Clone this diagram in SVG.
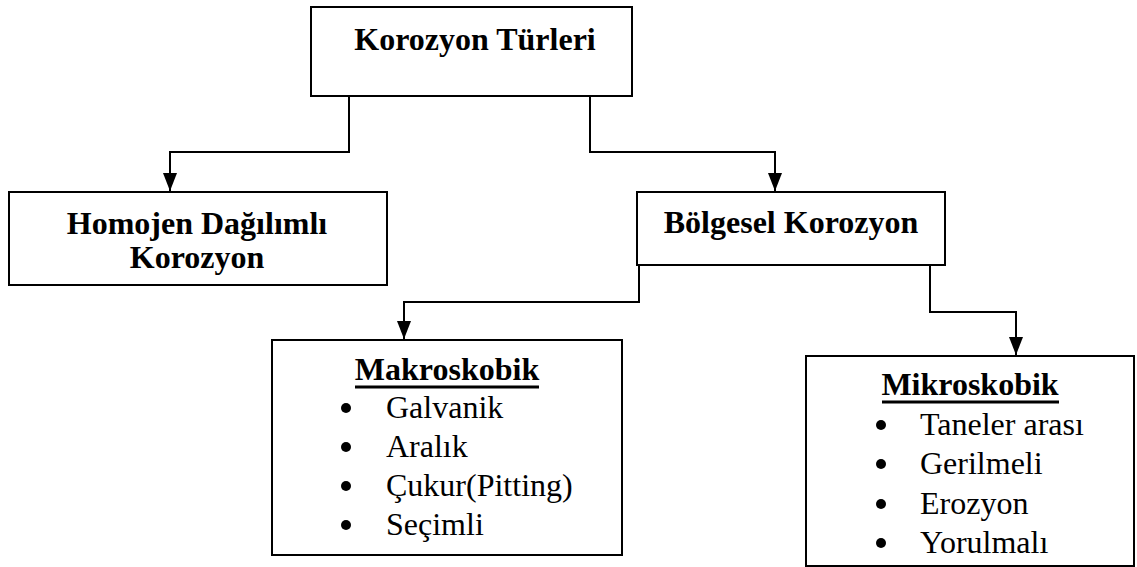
<svg xmlns="http://www.w3.org/2000/svg" width="1137" height="567" viewBox="0 0 1137 567">
<style>
.box{fill:#fff;stroke:#000;stroke-width:2}
.conn{fill:none;stroke:#000;stroke-width:2}
.b{font-family:"Liberation Serif","Times New Roman",serif;font-weight:bold;font-size:32px;fill:#000;text-anchor:middle}
.r{font-family:"Liberation Serif","Times New Roman",serif;font-size:32px;fill:#000}
.ul{stroke:#000;stroke-width:3}
</style>
<defs>
<marker id="arr" markerUnits="userSpaceOnUse" markerWidth="16" markerHeight="20" viewBox="0 0 16 20" refX="8" refY="19" orient="0">
<polygon points="1,1 15,1 8,19" fill="#000"/>
</marker>
</defs>
<rect width="1137" height="567" fill="#fff"/>
<g id="connectors">
<path class="conn" d="M349,96 V152 H170 V191" marker-end="url(#arr)"/>
<path class="conn" d="M590,96 V152 H775 V191" marker-end="url(#arr)"/>
<path class="conn" d="M639,265 V302 H404 V339" marker-end="url(#arr)"/>
<path class="conn" d="M930,265 V312 H1016 V355" marker-end="url(#arr)"/>
</g>
<g id="n-root">
<rect class="box" x="311" y="7" width="321" height="89"/>
<text class="b" x="475" y="50">Korozyon Türleri</text>
</g>
<g id="n-homojen">
<rect class="box" x="9" y="192" width="378" height="93"/>
<text class="b" x="197" y="234">Homojen Dağılımlı</text>
<text class="b" x="197" y="268">Korozyon</text>
</g>
<g id="n-bolgesel">
<rect class="box" x="637" y="192" width="308" height="73"/>
<text class="b" x="791" y="233">Bölgesel Korozyon</text>
</g>
<g id="n-makro">
<rect class="box" x="272" y="340" width="350" height="215"/>
<text class="b" x="447" y="380">Makroskobik</text>
<line class="ul" x1="355" y1="387" x2="539" y2="387"/>
<circle cx="346" cy="408" r="5"/>
<text class="r" x="386" y="418">Galvanik</text>
<circle cx="346" cy="447" r="5"/>
<text class="r" x="386" y="457">Aralık</text>
<circle cx="346" cy="486" r="5"/>
<text class="r" x="386" y="496">Çukur(Pitting)</text>
<circle cx="346" cy="525" r="5"/>
<text class="r" x="386" y="535">Seçimli</text>
</g>
<g id="n-mikro">
<rect class="box" x="806" y="356" width="328" height="210"/>
<text class="b" x="970" y="395">Mikroskobik</text>
<line class="ul" x1="882" y1="402" x2="1059" y2="402"/>
<circle cx="881" cy="425" r="5"/>
<text class="r" x="920" y="435">Taneler arası</text>
<circle cx="881" cy="464" r="5"/>
<text class="r" x="920" y="474">Gerilmeli</text>
<circle cx="881" cy="504" r="5"/>
<text class="r" x="920" y="514">Erozyon</text>
<circle cx="881" cy="543" r="5"/>
<text class="r" x="920" y="553">Yorulmalı</text>
</g>
</svg>
